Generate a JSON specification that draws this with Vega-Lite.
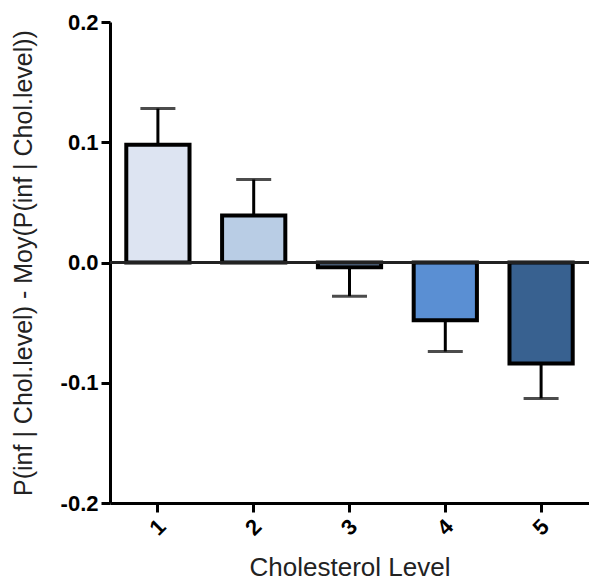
{
  "$schema": "https://vega.github.io/schema/vega-lite/v6.json",
  "autosize": "none",
  "width": 479,
  "height": 481,
  "padding": {"left": 110, "top": 22, "right": 0, "bottom": 83},
  "background": "white",
  "config": {
    "view": {"stroke": null},
    "axis": {
      "grid": false,
      "domainColor": "black",
      "domainWidth": 3,
      "tickColor": "black",
      "tickWidth": 3,
      "tickSize": 9,
      "labelFont": "Liberation Sans",
      "labelFontWeight": "bold",
      "labelFontSize": 22,
      "labelColor": "black",
      "titleFont": "Liberation Sans",
      "titleFontWeight": "normal",
      "titleFontSize": 25,
      "titleColor": "#222222"
    }
  },
  "data": {
    "values": [
      {"level": "1", "value": 0.098, "err": 0.128},
      {"level": "2", "value": 0.039, "err": 0.069},
      {"level": "3", "value": -0.004, "err": -0.028},
      {"level": "4", "value": -0.048, "err": -0.074},
      {"level": "5", "value": -0.084, "err": -0.113}
    ]
  },
  "layer": [
    {
      "mark": {"type": "rule", "strokeWidth": 3, "color": "black"},
      "encoding": {
        "x": {"field": "level", "type": "ordinal"},
        "y": {"field": "value", "type": "quantitative"},
        "y2": {"field": "err"}
      }
    },
    {
      "mark": {"type": "bar", "stroke": "black", "strokeWidth": 4},
      "encoding": {
        "x": {
          "field": "level",
          "type": "ordinal",
          "scale": {"paddingInner": 0.34, "paddingOuter": 0.17},
          "axis": {"title": "Cholesterol Level", "titleFontSize": 26, "labelAngle": -45, "labelPadding": 15, "titlePadding": 15, "labelAlign": "center", "labelBaseline": "middle"}
        },
        "y": {
          "field": "value",
          "type": "quantitative",
          "scale": {"domain": [-0.2, 0.2], "nice": false, "zero": false},
          "axis": {
            "title": "P(inf | Chol.level) - Moy(P(inf | Chol.level))",
            "values": [-0.2, -0.1, 0, 0.1, 0.2],
            "labelExpr": "replace(format(datum.value, '.1f'), '\u2212', '-')",
            "labelPadding": 3,
            "titlePadding": 24
          }
        },
        "fill": {
          "field": "level",
          "type": "ordinal",
          "scale": {"domain": ["1", "2", "3", "4", "5"], "range": ["#dde4f2", "#b9cde5", "#8cb0de", "#5a8fd3", "#386190"]},
          "legend": null
        }
      }
    },
    {
      "mark": {"type": "tick", "color": "black", "thickness": 3, "size": 35},
      "encoding": {
        "x": {"field": "level", "type": "ordinal"},
        "y": {"field": "err", "type": "quantitative"}
      }
    },
    {
      "mark": {"type": "rule", "strokeWidth": 3, "color": "#222222"},
      "encoding": {
        "y": {"datum": 0, "type": "quantitative"}
      }
    }
  ]
}
